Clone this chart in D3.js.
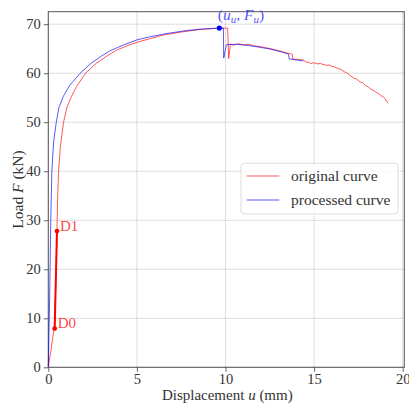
<!DOCTYPE html>
<html>
<head>
<meta charset="utf-8">
<script src="https://cdn.jsdelivr.net/npm/d3@7"></script>
<style>
  body { margin: 0; background: #fff; }
  svg { display: block; }
  text { font-family: "Liberation Serif", "DejaVu Serif", serif; fill: #333; }
</style>
</head>
<body>
<svg id="chart" width="409" height="408"></svg>
<script>
// original curve (red)
const origU = [0, 0.15, 0.3, 0.36, 0.42, 0.49, 0.53, 0.58, 0.68, 0.86, 1.05, 1.3, 1.6, 2.1, 2.7, 3.3, 3.8, 4.5, 5.0,
  5.7, 6.5, 7.5, 8.5, 9.65, 10.12, 10.18, 10.28, 10.45, 10.7, 11.0, 11.3, 11.6, 12.0, 12.55, 13.0, 13.5, 13.76,
  13.8, 14.1, 14.4, 14.5, 14.6, 14.7, 14.8, 14.9, 15.0, 15.2, 15.36, 15.5, 15.7, 15.85, 16.0, 16.15, 16.3, 16.5,
  16.7, 16.85, 17.0, 17.24, 17.4, 17.6, 17.75, 17.9, 18.05, 18.18, 18.35, 18.5, 18.62, 18.74, 18.9, 19.0, 19.1, 19.2];
const origF = [0, 3.5, 7.3, 7.9, 17, 27.8, 35, 40, 45, 50, 53, 55.2, 57.3, 60, 62, 63.5, 64.6, 65.7, 66.3,
  67.0, 67.8, 68.4, 68.9, 69.2, 69.2, 63.0, 65.9, 65.7, 66.0, 65.8, 65.9, 65.6, 65.4, 65.0, 64.6, 64.1, 63.9,
  62.9, 62.8, 62.7, 62.4, 62.2, 62.3, 61.9, 62.1, 62.1, 61.9, 62.0, 61.8, 61.6, 61.7, 61.4, 61.3, 61.0, 60.8,
  60.3, 60.1, 59.6, 59.0, 58.8, 58.2, 58.0, 57.5, 57.2, 56.8, 56.5, 56.1, 55.9, 55.5, 55.2, 54.8, 54.2, 53.9];

// processed curve (blue)
const procU = [0, 0.08, 0.14, 0.2, 0.3, 0.45, 0.6, 0.85, 1.2, 1.8, 2.4, 3.0, 3.5, 4.2, 5.0, 5.7, 6.7, 7.6, 8.56,
  9.65, 9.88, 9.9, 10.05, 10.3, 10.7, 11.6, 12.55, 13.2, 13.55, 13.6, 14.0, 14.4];
const procF = [0, 15, 30, 40, 46, 50, 53, 55.3, 57.5, 60, 62, 63.5, 64.6, 65.7, 66.8, 67.4, 68.1, 68.6, 69.0,
  69.2, 69.2, 63.1, 65.8, 65.9, 65.9, 65.5, 64.9, 64.3, 63.9, 62.9, 62.7, 62.5];

const dLabels = ["D0", "D1"];
const dU = [0.36, 0.49];
const dF = [7.9, 27.8];
const ultU = 9.65;
const ultF = 69.2;

const xTicks = [0, 5, 10, 15, 20];
const yTicks = [0, 10, 20, 30, 40, 50, 60, 70];
const seriesNames = ["original curve", "processed curve"];
const seriesColors = ["rgba(255,0,0,0.65)", "rgba(0,0,255,0.65)"];

const svg = d3.select("#chart");
const pLeft = 48.3, pRight = 404.3, pTop = 11.7, pBottom = 367.3;

const x = d3.scaleLinear().domain([0, 20.09]).range([pLeft, pRight]);
const y = d3.scaleLinear().domain([0, 72.55]).range([pBottom, pTop]);

// grid
const grid = svg.append("g");
grid.selectAll("line.gx")
  .data(xTicks)
  .enter()
  .append("line")
  .attr("x1", (d) => x(d)).attr("x2", (d) => x(d))
  .attr("y1", pTop).attr("y2", pBottom)
  .attr("stroke", "#aaa").attr("stroke-width", 0.8)
  .attr("stroke-dasharray", "1,1");
grid.selectAll("line.gy")
  .data(yTicks)
  .enter()
  .append("line")
  .attr("x1", pLeft).attr("x2", pRight)
  .attr("y1", (d) => y(d)).attr("y2", (d) => y(d))
  .attr("stroke", "#aaa").attr("stroke-width", 0.8)
  .attr("stroke-dasharray", "1,1");

// axes
const xAxis = svg.append("g")
  .attr("transform", `translate(0,${pBottom})`)
  .call(d3.axisBottom(x).tickValues(xTicks).tickSize(4.5).tickPadding(2).tickFormat(d3.format("d")));
const yAxis = svg.append("g")
  .attr("transform", `translate(${pLeft},0)`)
  .call(d3.axisLeft(y).tickValues(yTicks).tickSize(4.5).tickPadding(3).tickFormat(d3.format("d")));
[xAxis, yAxis].forEach((a) => {
  a.select(".domain").remove();
  a.selectAll(".tick line").attr("stroke", "#555").attr("stroke-width", 0.9);
  a.selectAll(".tick text").attr("font-size", 14.5).style("font-family", '"Liberation Serif", serif').attr("fill", "#333");
});

// frame
svg.append("rect")
  .attr("x", pLeft).attr("y", pTop)
  .attr("width", pRight - pLeft).attr("height", pBottom - pTop)
  .attr("fill", "none").attr("stroke", "#555").attr("stroke-width", 1);

const line = d3.line().x((d) => x(d[0])).y((d) => y(d[1]));

const origPts = origU.map((u, i) => [u, origF[i]]);
const procPts = procU.map((u, i) => [u, procF[i]]);

svg.append("path").attr("d", line(origPts))
  .attr("fill", "none").attr("stroke", seriesColors[0]).attr("stroke-width", 1);
svg.append("path").attr("d", line(procPts))
  .attr("fill", "none").attr("stroke", seriesColors[1]).attr("stroke-width", 1);

// D0 - D1 segment
const dPts = dU.map((u, i) => [u, dF[i]]);
svg.append("path").attr("d", line(dPts))
  .attr("fill", "none").attr("stroke", "#f00").attr("stroke-width", 2);
svg.selectAll("circle.d")
  .data(dPts)
  .enter()
  .append("circle")
  .attr("cx", (d) => x(d[0])).attr("cy", (d) => y(d[1]))
  .attr("r", 2.4).attr("fill", "#f00");
svg.selectAll("text.d")
  .data(dPts)
  .enter()
  .append("text")
  .attr("x", (d) => x(d[0]) + 3)
  .attr("y", (d) => y(d[1]) - 0.5)
  .attr("font-size", 15)
  .style("fill", "rgba(255,0,0,0.75)")
  .text((d, i) => dLabels[i]);

// ultimate point
svg.append("circle")
  .attr("cx", x(ultU)).attr("cy", y(ultF))
  .attr("r", 2.6).attr("fill", "#00f");
const ann = svg.append("text")
  .attr("x", x(ultU) - 1.5)
  .attr("y", y(ultF) - 8.5)
  .attr("font-size", 15.5)
  .style("fill", "rgba(0,0,255,0.7)");
ann.append("tspan").text("(");
ann.append("tspan").attr("font-style", "italic").text("u");
ann.append("tspan").attr("font-style", "italic").attr("font-size", 11).attr("dy", 3).text("u");
ann.append("tspan").attr("dy", -3).text(", ");
ann.append("tspan").attr("font-style", "italic").text("F");
ann.append("tspan").attr("font-style", "italic").attr("font-size", 11).attr("dy", 3).text("u");
ann.append("tspan").attr("dy", -3).text(")");

// legend
const lg = svg.append("g");
lg.append("rect")
  .attr("x", 241).attr("y", 163.3)
  .attr("width", 157).attr("height", 50.7)
  .attr("rx", 3)
  .attr("fill", "rgba(255,255,255,0.8)")
  .attr("stroke", "#ddd").attr("stroke-width", 1);
seriesNames.forEach((name, i) => {
  const yy = 176 + i * 24;
  lg.append("line")
    .attr("x1", 246.7).attr("x2", 279.3)
    .attr("y1", yy).attr("y2", yy)
    .attr("stroke", seriesColors[i]).attr("stroke-width", 1);
  lg.append("text")
    .attr("x", 291).attr("y", yy + 4.5)
    .attr("font-size", 15.5)
    .text(name);
});

// axis labels
const xl = svg.append("text")
  .attr("x", (pLeft + pRight) / 2 + 1).attr("y", 400)
  .attr("text-anchor", "middle")
  .attr("font-size", 15);
xl.append("tspan").text("Displacement ");
xl.append("tspan").attr("font-style", "italic").text("u");
xl.append("tspan").text(" (mm)");

const yl = svg.append("text")
  .attr("transform", `translate(23,${(pTop + pBottom) / 2}) rotate(-90)`)
  .attr("text-anchor", "middle")
  .attr("font-size", 15.5);
yl.append("tspan").text("Load ");
yl.append("tspan").attr("font-style", "italic").text("F");
yl.append("tspan").text(" (kN)");
</script>
</body>
</html>
